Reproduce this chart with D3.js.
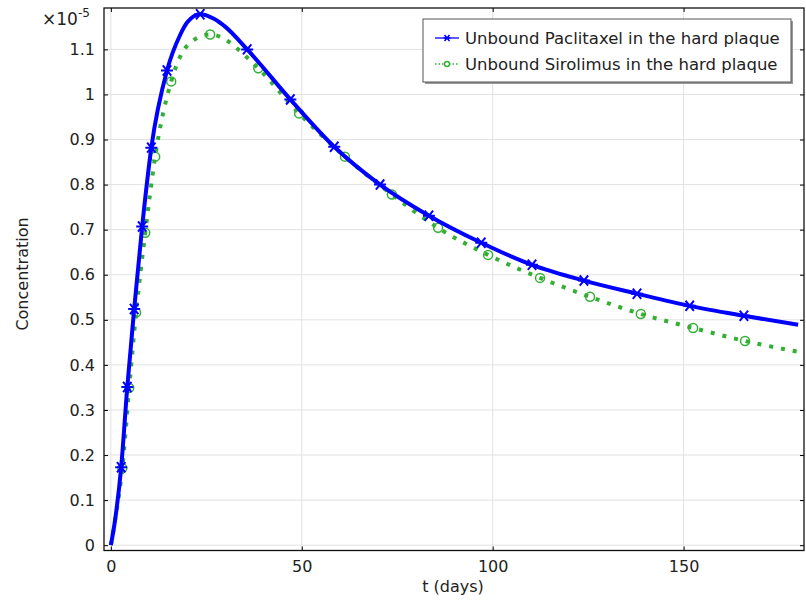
<!DOCTYPE html>
<html>
<head>
<meta charset="utf-8">
<script src="https://cdn.jsdelivr.net/npm/d3@7"></script>
<style>
  body { margin: 0; background: #fff; }
  text { font-family: "DejaVu Sans", sans-serif; fill: #222; }
</style>
</head>
<body>
<svg id="plotSVG" width="806" height="601"></svg>
<script>
// concentration values in units of 1e-5
let paclitaxelT = [0, 1, 2.7, 4.3, 6.1, 8.2, 10.6, 14.7, 18.2, 20, 23.4, 27, 30, 35.7, 47, 58.5, 70.5, 83.3, 97, 110.3, 123.9, 137.8, 151.6, 165.8, 180];
let paclitaxelC = [0, 0.05, 0.173, 0.351, 0.524, 0.707, 0.882, 1.053, 1.133, 1.160, 1.178, 1.168, 1.150, 1.100, 0.989, 0.884, 0.800, 0.731, 0.671, 0.622, 0.587, 0.558, 0.531, 0.509, 0.489];

let sirolimusT = [0, 1, 3.0, 4.8, 6.6, 9.0, 11.6, 15.8, 18.7, 21, 26.0, 30.7, 33.6, 38.6, 49.3, 61.3, 73.6, 85.7, 98.8, 112.4, 125.5, 138.8, 152.5, 166.1, 180];
let sirolimusC = [0, 0.05, 0.171, 0.349, 0.516, 0.693, 0.862, 1.029, 1.093, 1.116, 1.133, 1.118, 1.098, 1.058, 0.958, 0.862, 0.778, 0.704, 0.644, 0.593, 0.551, 0.513, 0.482, 0.453, 0.429];

let paclitaxelMarkT = [2.7, 4.3, 6.1, 8.2, 10.6, 14.7, 23.4, 35.7, 47, 58.5, 70.5, 83.3, 97, 110.3, 123.9, 137.8, 151.6, 165.8];
let paclitaxelMarkC = [0.173, 0.351, 0.524, 0.707, 0.882, 1.053, 1.178, 1.100, 0.989, 0.884, 0.800, 0.731, 0.671, 0.622, 0.587, 0.558, 0.531, 0.509];

let sirolimusMarkT = [3.0, 4.8, 6.6, 9.0, 11.6, 15.8, 26.0, 38.6, 49.3, 61.3, 73.6, 85.7, 98.8, 112.4, 125.5, 138.8, 152.5, 166.1];
let sirolimusMarkC = [0.171, 0.349, 0.516, 0.693, 0.862, 1.029, 1.133, 1.058, 0.958, 0.862, 0.778, 0.704, 0.644, 0.593, 0.551, 0.513, 0.482, 0.453];

let xTicks = [0, 50, 100, 150];
let yTicks = [0, 0.1, 0.2, 0.3, 0.4, 0.5, 0.6, 0.7, 0.8, 0.9, 1, 1.1];
let legendLabels = ["Unbound Paclitaxel in the hard plaque", "Unbound Sirolimus in the hard plaque"];

let blue = "#0000ff";
let green = "#33b033";

let plotLeft = 104, plotRight = 805, plotTop = 8, plotBottom = 550.5;

let svg = d3.select("#plotSVG");

let xScale = d3.scaleLinear().domain([-1.8, 181.8]).range([plotLeft, plotRight]);
let yScale = d3.scaleLinear().domain([-0.0118, 1.1918]).range([plotBottom, plotTop]);

// grid
svg.append("g").selectAll("line")
  .data(xTicks)
  .join("line")
  .attr("x1", d => xScale(d)).attr("x2", d => xScale(d))
  .attr("y1", plotTop).attr("y2", plotBottom)
  .attr("stroke", "#e2e2e2");

svg.append("g").selectAll("line")
  .data(yTicks)
  .join("line")
  .attr("x1", plotLeft).attr("x2", plotRight)
  .attr("y1", d => yScale(d)).attr("y2", d => yScale(d))
  .attr("stroke", "#e2e2e2");

// axes with inward ticks
let yAxis = svg.append("g")
  .attr("transform", `translate(${plotLeft},0)`)
  .call(d3.axisLeft(yScale).tickValues(yTicks).tickSize(-4).tickSizeOuter(0).tickPadding(9)
    .tickFormat(d => d3.format("")(+d.toFixed(1))));
yAxis.select(".domain").remove();
yAxis.selectAll("text").style("font-size", "16px").attr("fill", "#222");

let xAxis = svg.append("g")
  .attr("transform", `translate(0,${plotBottom})`)
  .call(d3.axisBottom(xScale).tickValues(xTicks).tickSize(-4).tickSizeOuter(0).tickPadding(10));
xAxis.select(".domain").remove();
xAxis.selectAll("text").style("font-size", "16px").attr("fill", "#222");

svg.append("g")
  .attr("transform", `translate(${plotRight - 1},0)`)
  .call(d3.axisRight(yScale).tickValues(yTicks).tickSize(-4).tickFormat(""))
  .select(".domain").remove();

svg.append("g")
  .attr("transform", `translate(0,${plotTop})`)
  .call(d3.axisTop(xScale).tickValues(xTicks).tickSize(-4).tickFormat(""))
  .select(".domain").remove();

svg.append("rect")
  .attr("x", plotLeft).attr("y", plotTop)
  .attr("width", plotRight - 1 - plotLeft).attr("height", plotBottom - plotTop)
  .attr("fill", "none").attr("stroke", "#111").attr("stroke-width", 1.3);

// exponent
let expo = svg.append("text").attr("x", 42).attr("y", 25).style("font-size", "17px");
expo.append("tspan").text("\u00d710");
expo.append("tspan").attr("dy", -8).style("font-size", "12px").text("-5");

// axis titles
svg.append("text")
  .attr("x", 453).attr("y", 592)
  .attr("text-anchor", "middle")
  .style("font-size", "16px")
  .text("t (days)");

svg.append("text")
  .attr("transform", "translate(28,274) rotate(-90)")
  .attr("text-anchor", "middle")
  .style("font-size", "16px")
  .text("Concentration");

// curves
let plot = svg.append("g");
let line = d3.line()
  .x(d => xScale(d[0]))
  .y(d => yScale(d[1]))
  .curve(d3.curveMonotoneX);

let pacData = d3.zip(paclitaxelT, paclitaxelC);
let sirData = d3.zip(sirolimusT, sirolimusC);

plot.append("path")
  .datum(sirData)
  .attr("d", line)
  .attr("fill", "none")
  .attr("stroke", green)
  .attr("stroke-width", 4)
  .attr("stroke-dasharray", "4,8");

plot.selectAll(".sirMark")
  .data(d3.zip(sirolimusMarkT, sirolimusMarkC))
  .join("circle")
  .attr("class", "sirMark")
  .attr("cx", d => xScale(d[0]))
  .attr("cy", d => yScale(d[1]))
  .attr("r", 4.5)
  .attr("fill", "none")
  .attr("stroke", green)
  .attr("stroke-width", 1.5);

plot.append("path")
  .datum(pacData)
  .attr("d", line)
  .attr("fill", "none")
  .attr("stroke", blue)
  .attr("stroke-width", 4);

let star = s => `M${-s},0H${s}M${-s * 0.7},${-s * 0.85}L${s * 0.7},${s * 0.85}M${-s * 0.7},${s * 0.85}L${s * 0.7},${-s * 0.85}`;

plot.selectAll(".pacMark")
  .data(d3.zip(paclitaxelMarkT, paclitaxelMarkC))
  .join("path")
  .attr("class", "pacMark")
  .attr("transform", d => `translate(${xScale(d[0])},${yScale(d[1])})`)
  .attr("d", star(6))
  .attr("fill", "none")
  .attr("stroke", blue)
  .attr("stroke-width", 2);

// legend
let lg = svg.append("g").attr("transform", "translate(423,19)");
lg.append("rect").attr("x", 2).attr("y", 2).attr("width", 368).attr("height", 63).attr("fill", "#999");
lg.append("rect").attr("width", 368).attr("height", 63).attr("fill", "#fff").attr("stroke", "#555");

let rows = [
  { color: blue, dash: null },
  { color: green, dash: "1.5,2" }
];
rows.forEach((r, i) => {
  let y = 19 + i * 26;
  lg.append("line").attr("x1", 12).attr("x2", 36).attr("y1", y).attr("y2", y)
    .attr("stroke", r.color).attr("stroke-width", 1.3).attr("stroke-dasharray", r.dash);
  if (i === 0) {
    lg.append("path").attr("transform", `translate(24,${y})`).attr("d", star(3.5))
      .attr("stroke", r.color).attr("stroke-width", 1.6).attr("fill", "none");
  } else {
    lg.append("circle").attr("cx", 24).attr("cy", y).attr("r", 2.5)
      .attr("stroke", r.color).attr("stroke-width", 1.4).attr("fill", "#fff");
  }
  lg.append("text").attr("x", 42).attr("y", y).attr("dy", "0.35em")
    .style("font-size", "16.5px").text(legendLabels[i]);
});
</script>
</body>
</html>
